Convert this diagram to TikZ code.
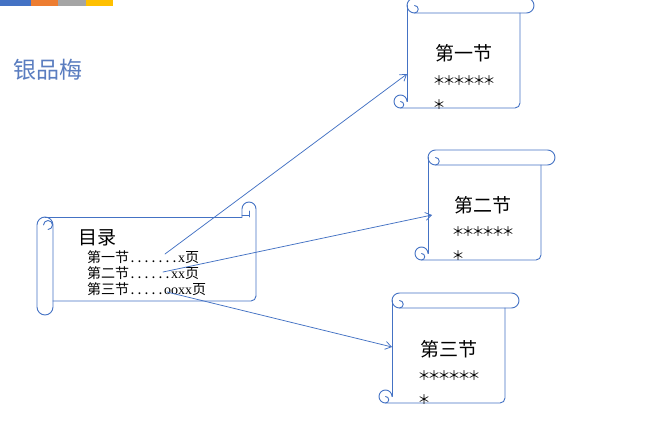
\documentclass[tikz,border=0pt]{standalone}
\usepackage{fontspec}
\setmainfont{Liberation Serif}
\newfontfamily\cjk{Noto Sans CJK SC}
\usetikzlibrary{arrows.meta}
\definecolor{sc}{HTML}{4472C4}
\definecolor{titlec}{HTML}{5A7DC0}
\definecolor{barA}{HTML}{4472C4}
\definecolor{barB}{HTML}{ED7D31}
\definecolor{barC}{HTML}{A5A5A5}
\definecolor{barD}{HTML}{FFC000}
\newcommand\mydt{\makebox[7pt][c]{.}}
\newcommand\myast{\makebox[10pt][c]{\fontsize{13}{13}\selectfont\raisebox{1.5pt}{＊}}}
\begin{document}
\begin{tikzpicture}[x=1pt,y=1pt,line cap=round,line join=round,
  scrollline/.style={draw=sc,line width=0.9pt},
  arr/.style={draw=sc,line width=0.75pt,-{Straight Barb[length=6pt,width=8pt]}},
  txt/.style={inner sep=0pt,outer sep=0pt,anchor=base west},
  sect/.style={txt,font=\cjk\fontsize{19}{19}\selectfont},
  tocline/.style={txt,font=\cjk\fontsize{14}{14}\selectfont},
  vscroll/.pic={
    \draw[scrollline] (7.5,0) -- (119.5,0) arc[start angle=90,end angle=-90,radius=7.5] -- (7.5,-15) arc[start angle=270,end angle=90,radius=7.5];
    \draw[scrollline] (7.5,-7.5) arc[start angle=90,end angle=-90,radius=3.75];
    \draw[scrollline] (0,-7.5) -- (0,-103.5);
    \draw[scrollline] (113,-15) -- (113,-105) arc[start angle=0,end angle=-90,radius=5] -- (-6.5,-110) arc[start angle=270,end angle=0,radius=6.5];
    \draw[scrollline] (-6.5,-103.5) arc[start angle=90,end angle=-90,radius=3.25];
  }]
\useasboundingbox (0,0) rectangle (669,-433);
\fill[white] (0,0) rectangle (669,-433);
% colour bar
\fill[barA] (0,0) rectangle (31,-6);
\fill[barB] (31,0) rectangle (58,-6);
\fill[barC] (58,0) rectangle (86,-6);
\fill[barD] (86,0) rectangle (113,-6);
% title
\node[txt,font=\cjk\fontsize{23}{23}\selectfont,text=titlec] (title) at (13,-79) {银品梅};
% horizontal scroll
\begin{scope}[shift={(37,-202)}]
  \draw[scrollline] (8,-15) -- (205,-15);
  \draw[scrollline] (219,-94) -- (219,-7) arc[start angle=0,end angle=180,radius=7] -- (205,-15);
  \draw[scrollline] (212,-15) -- (212,-9);
  \draw[scrollline] (205,-13) -- (212,-13);
  \draw[scrollline] (219,-94) arc[start angle=0,end angle=-90,radius=5] -- (16,-99);
  \draw[scrollline] (0,-23) -- (0,-105) arc[start angle=180,end angle=360,radius=8] -- (16,-23) arc[start angle=0,end angle=180,radius=8];
  \draw[scrollline] (11,-27.5) arc[start angle=-90,end angle=180,radius=4.5];
\end{scope}
\node[txt,font=\cjk\fontsize{19}{19}\selectfont] (toc) at (78,-244) {目录};
\node[tocline] (l1) at (87,-262) {第一节\mydt\mydt\mydt\mydt\mydt\mydt\mydt{\rmfamily x}页};
\node[tocline] (l2) at (87,-278) {第二节\mydt\mydt\mydt\mydt\mydt\mydt{\rmfamily xx}页};
\node[tocline] (l3) at (87,-294) {第三节\mydt\mydt\mydt\mydt\mydt{\rmfamily ooxx}页};
% vertical scrolls
\pic at (407,2) {vscroll};
\pic at (428,-150) {vscroll};
\pic at (392,-293) {vscroll};
\node[sect] (s1t) at (435,-61) {第一节};
\node[sect] (s1a) at (434,-87) {\myast\myast\myast\myast\myast\myast};
\node[sect] (s1b) at (434,-111) {\myast};
\node[sect] (s2t) at (454,-212) {第二节};
\node[sect] (s2a) at (453,-238) {\myast\myast\myast\myast\myast\myast};
\node[sect] (s2b) at (453,-262) {\myast};
\node[sect] (s3t) at (420,-356) {第三节};
\node[sect] (s3a) at (419,-382) {\myast\myast\myast\myast\myast\myast};
\node[sect] (s3b) at (419,-406) {\myast};
% connectors
\coordinate (a1s) at (165,-254);
\coordinate (a1e) at (407,-74);
\coordinate (a2s) at (163,-272);
\coordinate (a2e) at (432,-215);
\coordinate (a3s) at (167,-292);
\coordinate (a3e) at (392,-347);
\draw[arr] (a1s) -- (a1e);
\draw[arr] (a2s) -- (a2e);
\draw[arr] (a3s) -- (a3e);
\end{tikzpicture}
\end{document}
